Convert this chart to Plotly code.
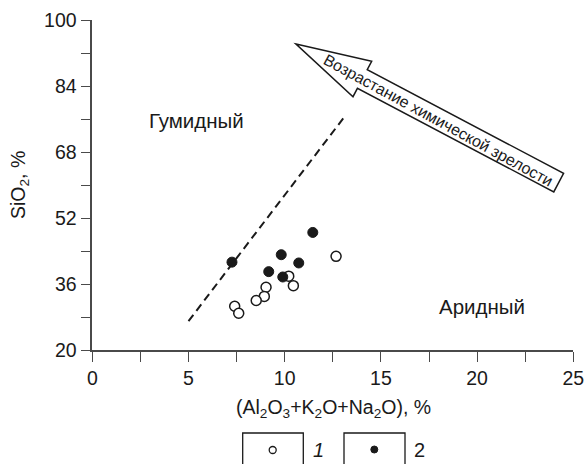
import math
import plotly.graph_objects as go

# ---- data ----
open_x = [12.67, 10.21, 10.45, 9.03, 8.94, 8.52, 7.40, 7.61]
open_y = [42.7, 37.9, 35.6, 35.2, 33.0, 32.0, 30.6, 28.9]
filled_x = [11.46, 9.82, 10.73, 7.26, 9.17, 9.90]
filled_y = [48.5, 43.1, 41.1, 41.3, 39.0, 37.7]
boundary_x = [5.0, 13.1]
boundary_y = [27.0, 76.5]
x_ticks = [0, 5, 10, 15, 20, 25]
y_ticks = [20, 36, 52, 68, 84, 100]
legend_labels = ["1", "2"]

W, H = 587, 464
# plot area in pixels
PL, PR, PT, PB = 92.3, 573.3, 20.0, 350.0

FONT = "Liberation Sans, Arial, sans-serif"
INK = "#1a1a1a"
AX = "#4a4a4a"

fig = go.Figure()

fig.add_trace(go.Scatter(
    x=boundary_x, y=boundary_y, mode="lines",
    line=dict(color=INK, width=2, dash="8px,5px"),
    showlegend=False, hoverinfo="skip"))

fig.add_trace(go.Scatter(
    x=open_x, y=open_y, mode="markers",
    marker=dict(symbol="circle", size=10, color="white",
                line=dict(color=INK, width=1.5)),
    showlegend=False))
fig.add_trace(go.Scatter(
    x=filled_x, y=filled_y, mode="markers",
    marker=dict(symbol="circle", size=10, color=INK,
                line=dict(color=INK, width=1)),
    showlegend=False))

# legend symbols on a full-figure pixel axis
fig.add_trace(go.Scatter(
    x=[272.7], y=[450], xaxis="x2", yaxis="y2", mode="markers",
    marker=dict(symbol="circle", size=7, color="white", line=dict(color=INK, width=1.3)),
    showlegend=False, hoverinfo="skip"))
fig.add_trace(go.Scatter(
    x=[374.3], y=[449.5], xaxis="x2", yaxis="y2", mode="markers",
    marker=dict(symbol="circle", size=7, color=INK, line=dict(color=INK, width=1)),
    showlegend=False, hoverinfo="skip"))

shapes = []
# legend boxes
for x0, x1 in [(242.7, 303.3), (344.0, 405.0)]:
    shapes.append(dict(type="rect", xref="x2", yref="y2", x0=x0, x1=x1, y0=433, y1=466,
                       line=dict(color=INK, width=1.3), fillcolor="rgba(0,0,0,0)"))

# block arrow (pixel coords)
tip = (296.0, 44.0)
ang = math.atan2(138.5, 262.5)
L, HL, HW, SW = 297.0, 75.0, 20.0, 10.5
ux, uy = math.cos(ang), math.sin(ang)
nx, ny = -uy, ux
def P(a, b):
    return (tip[0] + ux * a + nx * b, tip[1] + uy * a + ny * b)
pts = [P(0, 0), P(HL, -HW), P(HL, -SW), P(L, -SW), P(L, SW), P(HL, SW), P(HL, HW)]
path = "M " + " L ".join(f"{x:.2f},{y:.2f}" for x, y in pts) + " Z"
shapes.append(dict(type="path", xref="x2", yref="y2", path=path,
                   line=dict(color=INK, width=1.5), fillcolor="white", layer="above"))

LBL = 20.5
annotations = [
    dict(xref="x2", yref="y2", x=P(162, 1)[0], y=P(162, 1)[1],
         text="Возрастание химической зрелости", showarrow=False,
         textangle=math.degrees(ang) + 0.8, font=dict(size=16, family=FONT, color=INK)),
    dict(xref="x2", yref="y2", x=196, y=120, text="Гумидный", showarrow=False,
         font=dict(size=LBL, family=FONT, color=INK)),
    dict(xref="x2", yref="y2", x=482, y=306, text="Аридный", showarrow=False,
         font=dict(size=LBL, family=FONT, color=INK)),
    dict(xref="x2", yref="y2", x=333, y=408,
         text="(Al<sub>2</sub>O<sub>3</sub>+K<sub>2</sub>O+Na<sub>2</sub>O), %",
         showarrow=False, font=dict(size=19.5, family=FONT, color=INK)),
    dict(xref="x2", yref="y2", x=19, y=185, text="SiO<sub>2</sub>, %", textangle=-90,
         showarrow=False, font=dict(size=19.5, family=FONT, color=INK)),
    dict(xref="x2", yref="y2", x=318, y=450, text="<i>" + legend_labels[0] + "</i>",
         showarrow=False, font=dict(size=20, family=FONT, color=INK)),
    dict(xref="x2", yref="y2", x=419, y=450, text=legend_labels[1],
         showarrow=False, font=dict(size=20, family=FONT, color=INK)),
]

TICKF = dict(size=19.5, family=FONT, color=INK)
fig.update_layout(
    width=W, height=H,
    margin=dict(l=0, r=0, t=0, b=0, autoexpand=False),
    paper_bgcolor="white", plot_bgcolor="rgba(0,0,0,0)",
    font=dict(family=FONT, size=18, color=INK),
    xaxis=dict(domain=[PL / W, PR / W], range=[0, 25], tickvals=x_ticks,
               showgrid=False, zeroline=False, showline=True, linecolor=AX, linewidth=1.5,
               ticks="outside", ticklen=10, tickcolor=AX, tickwidth=1.3,
               minor=dict(ticks="outside", ticklen=10, tickcolor=AX, tickwidth=1.3,
                          dtick=2.5, tick0=0, showgrid=False),
               tickfont=TICKF, fixedrange=True, anchor="y"),
    yaxis=dict(domain=[(H - PB) / H, (H - PT) / H], range=[20, 100], tickvals=y_ticks,
               showgrid=False, zeroline=False, showline=True, linecolor=AX, linewidth=1.5,
               ticks="outside", ticklen=10, tickcolor=AX, tickwidth=1.3,
               minor=dict(ticks="outside", ticklen=10, tickcolor=AX, tickwidth=1.3,
                          dtick=8, tick0=20, showgrid=False),
               tickfont=TICKF, fixedrange=True, anchor="x"),
    xaxis2=dict(domain=[0, 1], range=[0, W], visible=False, anchor="y2",
                fixedrange=True),
    yaxis2=dict(domain=[0, 1], range=[H, 0], visible=False, anchor="x2",
                fixedrange=True),
    shapes=shapes, annotations=annotations, showlegend=False,
)

fig.write_html("out.html")
